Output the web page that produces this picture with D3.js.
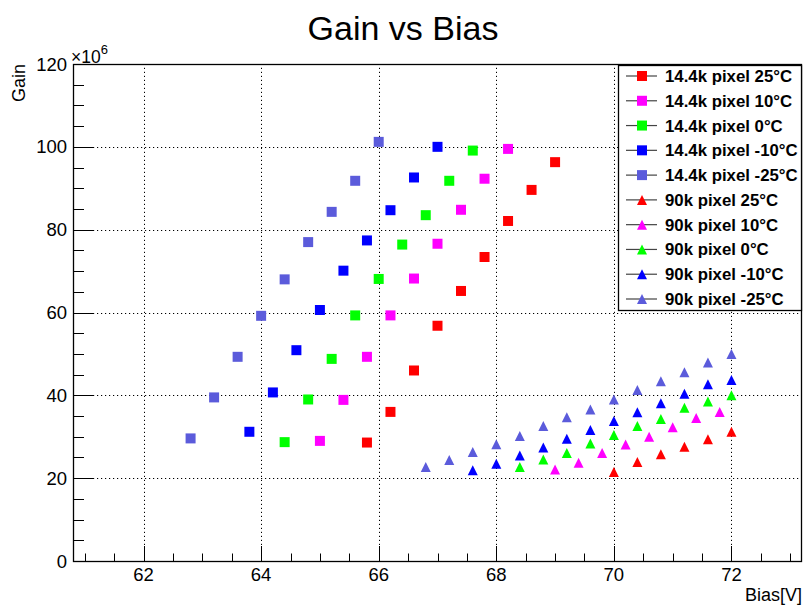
<!DOCTYPE html>
<html>
<head>
<meta charset="utf-8">
<script src="https://cdn.jsdelivr.net/npm/d3@7"></script>
<style>
  html, body { margin: 0; padding: 0; background: #fff; }
  svg { display: block; font-family: "Liberation Sans", Arial, Helvetica, sans-serif; }
</style>
</head>
<body>
<svg id="chart" width="804" height="610"></svg>
<script>
// ---- data ----
const x144_25  = [65.8, 66.2, 66.6, 67.0, 67.4, 67.8, 68.2, 68.6, 69.0];
const y144_25  = [28.6, 36.0, 46.0, 56.8, 65.2, 73.4, 82.1, 89.6, 96.3];
const x144_10  = [65.0, 65.4, 65.8, 66.2, 66.6, 67.0, 67.4, 67.8, 68.2];
const y144_10  = [29.0, 38.9, 49.3, 59.3, 68.2, 76.6, 84.8, 92.3, 99.5];
const x144_0   = [64.4, 64.8, 65.2, 65.6, 66.0, 66.4, 66.8, 67.2, 67.6];
const y144_0   = [28.7, 39.0, 48.8, 59.3, 68.1, 76.4, 83.5, 91.8, 99.1];
const x144_m10 = [63.8, 64.2, 64.6, 65.0, 65.4, 65.8, 66.2, 66.6, 67.0];
const y144_m10 = [31.2, 40.7, 50.9, 60.6, 70.1, 77.4, 84.7, 92.6, 100.0];
const x144_m25 = [62.8, 63.2, 63.6, 64.0, 64.4, 64.8, 65.2, 65.6, 66.0];
const y144_m25 = [29.6, 39.5, 49.3, 59.2, 68.0, 77.0, 84.3, 91.8, 101.2];

const x90_25  = [70.0, 70.4, 70.8, 71.2, 71.6, 72.0];
const y90_25  = [21.5, 23.9, 25.8, 27.6, 29.4, 31.2];
const x90_10  = [69.0, 69.4, 69.8, 70.2, 70.6, 71.0, 71.4, 71.8];
const y90_10  = [22.1, 23.7, 26.1, 28.1, 30.0, 32.3, 34.5, 36.0];
const x90_0   = [68.4, 68.8, 69.2, 69.6, 70.0, 70.4, 70.8, 71.2, 71.6, 72.0];
const y90_0   = [22.7, 24.5, 26.1, 28.4, 30.4, 32.6, 34.3, 37.0, 38.5, 40.0];
const x90_m10 = [67.6, 68.0, 68.4, 68.8, 69.2, 69.6, 70.0, 70.4, 70.8, 71.2, 71.6, 72.0];
const y90_m10 = [21.9, 23.5, 25.5, 27.4, 29.5, 31.6, 33.8, 35.9, 38.1, 40.4, 42.7, 43.7];
const x90_m25 = [66.8, 67.2, 67.6, 68.0, 68.4, 68.8, 69.2, 69.6, 70.0, 70.4, 70.8, 71.2, 71.6, 72.0];
const y90_m25 = [22.7, 24.4, 26.3, 28.2, 30.2, 32.6, 34.7, 36.6, 39.0, 41.3, 43.4, 45.6, 47.9, 50.0];

const seriesLabels = [
  "14.4k pixel 25\u00B0C", "14.4k pixel 10\u00B0C", "14.4k pixel 0\u00B0C",
  "14.4k pixel -10\u00B0C", "14.4k pixel -25\u00B0C",
  "90k pixel 25\u00B0C", "90k pixel 10\u00B0C", "90k pixel 0\u00B0C",
  "90k pixel -10\u00B0C", "90k pixel -25\u00B0C"
];
const seriesColors = ["#ff0000", "#ff00ff", "#00ff00", "#0000ff", "#5b5bdb",
                      "#ff0000", "#ff00ff", "#00ff00", "#0000ff", "#5b5bdb"];
const seriesShapes = ["square","square","square","square","square",
                      "triangle","triangle","triangle","triangle","triangle"];
const seriesX = [x144_25, x144_10, x144_0, x144_m10, x144_m25, x90_25, x90_10, x90_0, x90_m10, x90_m25];
const seriesY = [y144_25, y144_10, y144_0, y144_m10, y144_m25, y90_25, y90_10, y90_0, y90_m10, y90_m25];

const xMajorTicks = [62, 64, 66, 68, 70, 72];
const yMajorTicks = [0, 20, 40, 60, 80, 100, 120];

const titleText = "Gain vs Bias";
const xTitle = "Bias[V]";
const yTitle = "Gain";

// ---- layout ----
const W = 804, H = 610;
const L = 73, R = 802, T = 64, B = 561;
const svg = d3.select("#chart");

const x = d3.scaleLinear().domain([60.8, 73.2]).range([L, R]);
const y = d3.scaleLinear().domain([0, 120]).range([B, T]);

const xMinor = d3.range(61, 73.01, 0.5);
const yMinor = d3.range(0, 120.01, 5);

// grid
const grid = svg.append("g").attr("stroke", "#000").attr("stroke-width", 1)
  .attr("stroke-dasharray", "1.2,2.8");
grid.selectAll("line.vx").data(xMajorTicks).join("line")
  .attr("x1", d => Math.round(x(d)) + 0.5).attr("x2", d => Math.round(x(d)) + 0.5)
  .attr("y1", B).attr("y2", T);
grid.selectAll("line.hy").data(yMajorTicks.filter(d => d > 0 && d < 120)).join("line")
  .attr("y1", d => Math.round(y(d)) + 0.5).attr("y2", d => Math.round(y(d)) + 0.5)
  .attr("x1", L).attr("x2", R);

// x axis
const gx = svg.append("g").attr("transform", `translate(0,${B})`);
gx.selectAll("line.tk").data(xMinor).join("line")
  .attr("x1", d => Math.round(x(d)) + 0.5).attr("x2", d => Math.round(x(d)) + 0.5)
  .attr("y1", 0).attr("y2", d => (Math.abs(d % 2) < 1e-6) ? -15 : -7.5)
  .attr("stroke", "#000").attr("stroke-width", 1);
gx.selectAll("text").data(xMajorTicks).join("text")
  .attr("x", d => x(d)).attr("y", 20)
  .attr("text-anchor", "middle").attr("font-size", 18.5).attr("fill", "#000")
  .text(d => d);

// y axis
const gy = svg.append("g").attr("transform", `translate(${L},0)`);
gy.selectAll("line.tk").data(yMinor).join("line")
  .attr("y1", d => Math.round(y(d)) + 0.5).attr("y2", d => Math.round(y(d)) + 0.5)
  .attr("x1", 0).attr("x2", d => (d % 20 === 0) ? 21 : 11)
  .attr("stroke", "#000").attr("stroke-width", 1);
gy.selectAll("text").data(yMajorTicks).join("text")
  .attr("x", -6).attr("y", d => y(d) + 6.5)
  .attr("text-anchor", "end").attr("font-size", 18.5).attr("fill", "#000")
  .text(d => d);

// frame
svg.append("rect").attr("x", L + 0.5).attr("y", T + 0.5)
  .attr("width", R - L - 1).attr("height", B - T)
  .attr("fill", "none").attr("stroke", "#000").attr("stroke-width", 1.3);

// markers
const ms = 10;
function markerPath(shape) {
  const h = ms / 2;
  if (shape === "square") return `M${-h},${-h}H${h}V${h}H${-h}Z`;
  return `M0,${-h}L${h},${h}L${-h},${h}Z`;
}
const marks = svg.append("g");
seriesX.forEach((xs, i) => {
  const pts = xs.map((v, j) => [v, seriesY[i][j]]);
  marks.append("g").selectAll("path").data(pts).join("path")
    .attr("d", markerPath(seriesShapes[i]))
    .attr("transform", d => `translate(${x(d[0])},${y(d[1])})`)
    .attr("fill", seriesColors[i]);
});

// title & axis titles
svg.append("text").attr("x", 403).attr("y", 40).attr("text-anchor", "middle")
  .attr("font-size", 34).attr("fill", "#000").text(titleText);
svg.append("text").attr("x", 802).attr("y", 601).attr("text-anchor", "end")
  .attr("font-size", 18).attr("fill", "#000").text(xTitle);
svg.append("text").attr("transform", "translate(25,64) rotate(-90)")
  .attr("text-anchor", "end").attr("font-size", 18).attr("fill", "#000").text(yTitle);
const exp = svg.append("text").attr("x", 71).attr("y", 63).attr("font-size", 17.5).attr("fill", "#000");
exp.append("tspan").text("\u00D710");
exp.append("tspan").attr("dy", -9).attr("font-size", 13).text("6");

// legend
const lg = svg.append("g");
lg.append("rect").attr("x", 618.5).attr("y", 65.5).attr("width", 183).attr("height", 245)
  .attr("fill", "#fff").attr("stroke", "#000").attr("stroke-width", 1.3);
const rowY = d3.scaleLinear().domain([0, 9]).range([76, 299]);
seriesLabels.forEach((lab, i) => {
  const cy = rowY(i);
  lg.append("line").attr("x1", 626).attr("x2", 657).attr("y1", cy).attr("y2", cy)
    .attr("stroke", "#444").attr("stroke-width", 1.2);
  lg.append("path").attr("d", markerPath(seriesShapes[i]))
    .attr("transform", `translate(642,${cy})`).attr("fill", seriesColors[i]);
  lg.append("text").attr("x", 665).attr("y", cy + 6).attr("font-size", 16.8)
    .attr("font-weight", "bold").attr("fill", "#000").text(lab);
});
</script>
</body>
</html>
